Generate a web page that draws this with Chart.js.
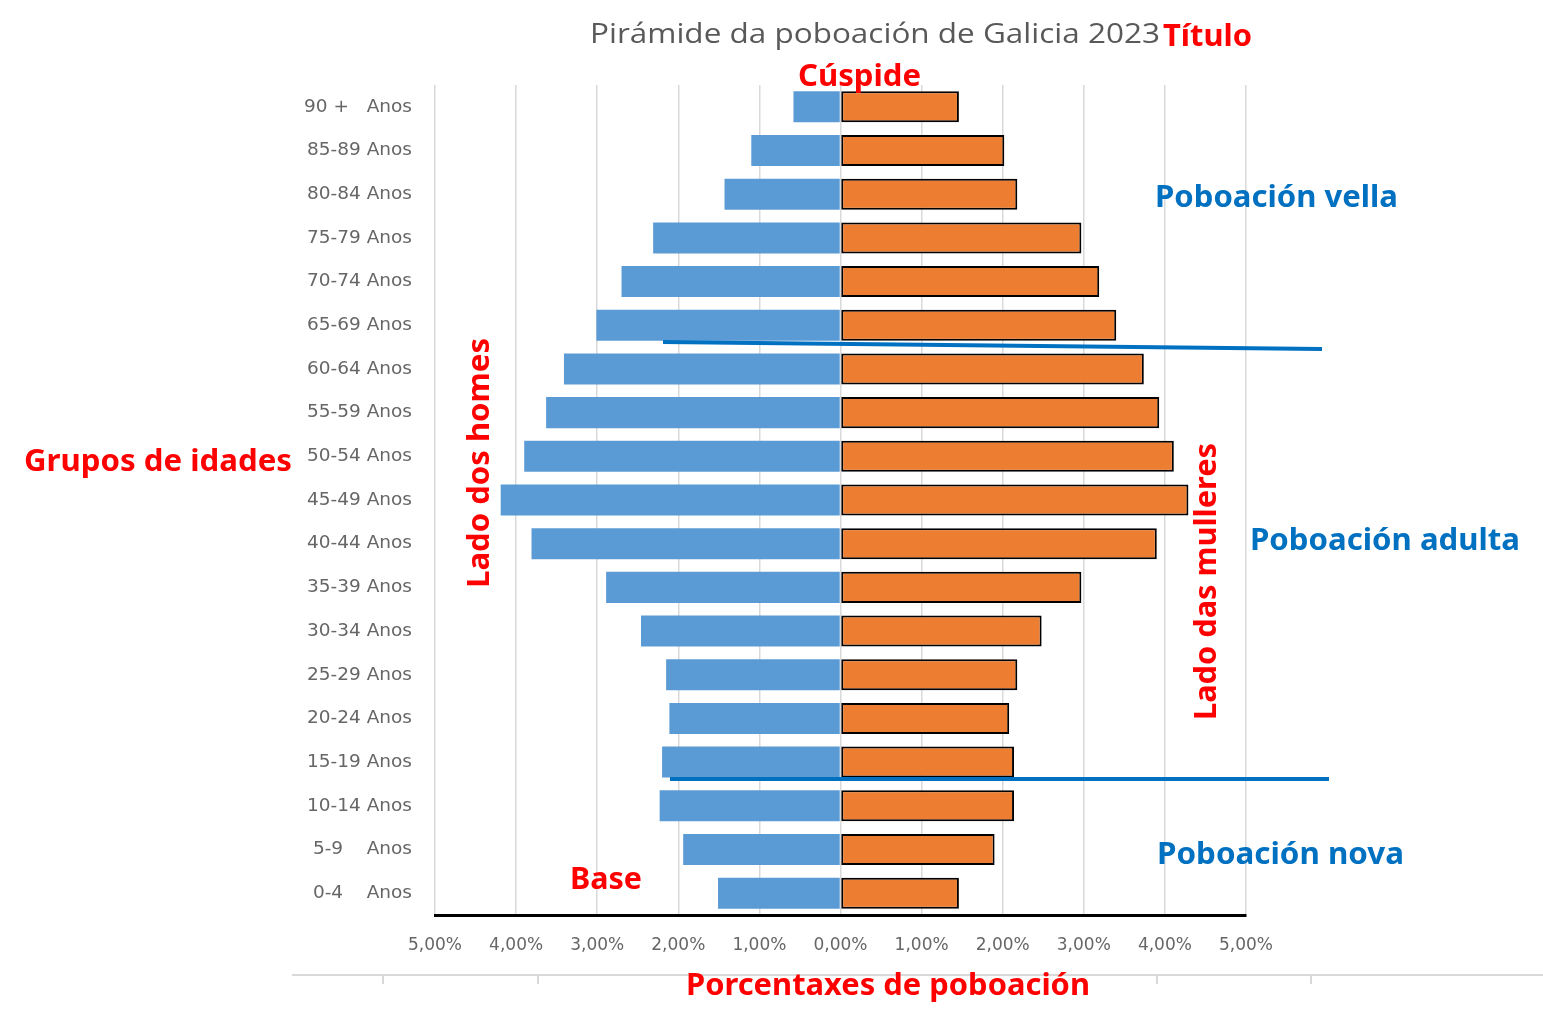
<!DOCTYPE html>
<html>
<head>
<meta charset="utf-8">
<script src="https://cdn.jsdelivr.net/npm/chart.js@4.4.1/dist/chart.umd.min.js"></script>
<style>
  html, body { margin: 0; padding: 0; background: #ffffff; }
  #wrap { width: 1543px; height: 1030px; position: relative; }
</style>
</head>
<body>
<div id="wrap"><canvas id="c" width="1543" height="1030"></canvas></div>
<script>
const ageGroups = ['90 +   Anos','85-89 Anos','80-84 Anos','75-79 Anos','70-74 Anos','65-69 Anos','60-64 Anos','55-59 Anos','50-54 Anos','45-49 Anos','40-44 Anos','35-39 Anos','30-34 Anos','25-29 Anos','20-24 Anos','15-19 Anos','10-14 Anos','5-9    Anos','0-4    Anos'];
const menPct   = [0.58, 1.10, 1.43, 2.31, 2.70, 3.01, 3.41, 3.63, 3.90, 4.19, 3.81, 2.89, 2.46, 2.15, 2.11, 2.20, 2.23, 1.94, 1.51];
const womenPct = [1.46, 2.02, 2.18, 2.97, 3.19, 3.40, 3.74, 3.93, 4.11, 4.29, 3.90, 2.97, 2.48, 2.18, 2.08, 2.14, 2.14, 1.90, 1.46];
const xTicks = [-5, -4, -3, -2, -1, 0, 1, 2, 3, 4, 5];
const chartTitle = 'Pirámide da poboación de Galicia 2023';

const RED = '#FF0000', BLUE = '#0070C0';
// annotation texts: [text, colour, left, right, centreY, fontPx, rotated]
const notes = [
  ['Título', RED, 1163, 1252, 37, 30, false],
  ['Cúspide', RED, 798, 921, 77, 30, false],
  ['Grupos de idades', RED, 24, 292, 462, 30, false],
  ['Base', RED, 570, 642, 880, 30, false],
  ['Porcentaxes de poboación', RED, 686, 1090, 986, 30, false],
  ['Poboación vella', BLUE, 1155, 1398, 198, 30, false],
  ['Poboación adulta', BLUE, 1250, 1520, 541, 30, false],
  ['Poboación nova', BLUE, 1157, 1404, 855, 30, false],
  ['Lado dos homes', RED, 338, 588, 480, 30, true],
  ['Lado das mulleres', RED, 443, 720, 1207, 30, true]
];

function fmtPct(v) { return Math.abs(v).toFixed(2).replace('.', ',') + '%'; }

const overlay = {
  id: 'overlay',
  afterDraw(chart) {
    const ctx = chart.ctx;
    // title
    ctx.save();
    ctx.fillStyle = '#595959';
    ctx.font = '27px "Open Sans", sans-serif';
    ctx.textBaseline = 'middle';
    ctx.textAlign = 'left';
    let w = ctx.measureText(chartTitle).width;
    const tl = 590, tr = 1160;
    ctx.translate(tl, 35);
    ctx.scale((tr - tl) / w, 1);
    ctx.fillText(chartTitle, 0, 0);
    ctx.restore();

    // secondary gray rule at the bottom
    ctx.save();
    ctx.strokeStyle = '#D9D9D9';
    ctx.lineWidth = 2;
    ctx.beginPath();
    ctx.moveTo(292, 975); ctx.lineTo(1543, 975);
    [383, 538, 1157, 1311].forEach(x => { ctx.moveTo(x, 975); ctx.lineTo(x, 984); });
    ctx.stroke();
    ctx.restore();

    // blue separator lines
    ctx.save();
    ctx.strokeStyle = BLUE;
    ctx.lineWidth = 4;
    ctx.beginPath();
    ctx.moveTo(663, 342); ctx.lineTo(1322, 349);
    ctx.moveTo(670, 779); ctx.lineTo(1329, 779);
    ctx.stroke();
    ctx.restore();

    // annotations
    notes.forEach(([t, col, a, b, c, px, rot]) => {
      ctx.save();
      ctx.fillStyle = col;
      ctx.font = 'bold ' + px + 'px "Noto Sans", "Open Sans", sans-serif';
      ctx.textBaseline = 'middle';
      ctx.textAlign = 'left';
      const tw = ctx.measureText(t).width;
      const s = (b - a) / tw;
      if (rot) {
        ctx.translate(c, b);
        ctx.rotate(-Math.PI / 2);
        ctx.scale(s, 1);
      } else {
        ctx.translate(a, c);
        ctx.scale(s, 1);
      }
      ctx.fillText(t, 0, 0);
      ctx.restore();
    });
  }
};

new Chart(document.getElementById('c'), {
  type: 'bar',
  data: {
    labels: ageGroups,
    datasets: [
      {
        label: 'Homes',
        data: menPct.map(v => -v),
        backgroundColor: '#5B9BD5',
        borderWidth: 0,
        barPercentage: 0.71,
        categoryPercentage: 1.0
      },
      {
        label: 'Mulleres',
        data: womenPct,
        backgroundColor: '#ED7D31',
        borderColor: '#000000',
        borderWidth: 2,
        borderSkipped: false,
        barPercentage: 0.71,
        categoryPercentage: 1.0
      }
    ]
  },
  options: {
    indexAxis: 'y',
    responsive: false,
    animation: false,
    devicePixelRatio: 1,
    layout: { padding: { top: 85, right: 297, bottom: 0, left: 0 } },
    plugins: {
      legend: { display: false },
      title: { display: false },
      tooltip: { enabled: false }
    },
    scales: {
      x: {
        type: 'linear',
        min: -5, max: 5,
        stacked: true,
        afterBuildTicks(scale) { scale.ticks = xTicks.map(v => ({ value: v })); },
        afterFit(scale) { scale.height = 115; },
        ticks: {
          callback: v => fmtPct(v),
          color: '#666666',
          font: { family: '"DejaVu Sans", sans-serif', size: 17 },
          padding: 20,
          maxRotation: 0
        },
        grid: { color: '#D9D9D9', lineWidth: 1.5, drawTicks: false },
        border: { display: true, color: '#000000', width: 3 }
      },
      y: {
        stacked: true,
        afterFit(scale) { scale.width = 435; },
        ticks: {
          color: '#666666',
          font: { family: '"DejaVu Sans", sans-serif', size: 18.5 },
          padding: 23,
          autoSkip: false
        },
        grid: { display: false, drawTicks: false },
        border: { display: false }
      }
    }
  },
  plugins: [overlay]
});
</script>
</body>
</html>
